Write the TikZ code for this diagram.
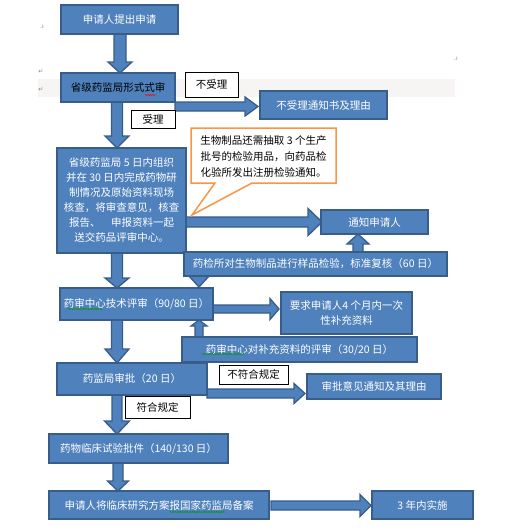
\documentclass[tikz,border=0pt]{standalone}
\usepackage{fontspec}
\newfontfamily\cjk{Noto Sans CJK SC}
\newfontfamily\djv{DejaVu Sans}
\usetikzlibrary{calc,decorations.pathmorphing}
\definecolor{boxblue}{HTML}{4F81BD}
\definecolor{boxedge}{HTML}{385D8A}
\definecolor{calloutorange}{HTML}{F79646}
\definecolor{bandgray}{HTML}{F6F5F3}
\definecolor{markgray}{HTML}{7F7F7F}
\pgfdeclarelayer{band}
\pgfdeclarelayer{arrows}
\pgfsetlayers{band,arrows,main}
\tikzset{
  box/.style={draw=boxedge, fill=boxblue, line width=1.6pt, inner sep=0pt, outer sep=0pt,
    text=white, font=\cjk\fontsize{10.5}{15}\selectfont, align=center},
  lbl/.style={draw=black, fill=white, line width=0.8pt, inner sep=0pt, outer sep=0pt,
    text=black, font=\cjk\fontsize{10.5}{15}\selectfont},
  barrow/.style={fill=boxblue, draw=boxedge, line width=1.3pt, line join=miter},
  pmark/.style={text=markgray, font=\djv\fontsize{6}{6}\selectfont, inner sep=0pt},
  squig/.style={decorate, decoration={snake, amplitude=0.6pt, segment length=2.4pt}, line width=0.5pt}
}
% down arrow: #1 x, #2 from coord, #3 tip coord, #4 shaft half, #5 head half, #6 head length
\newcommand\darr[6]{%
\draw[barrow] let \p1=#2, \p2=#3 in
 ({(#1-#4)*1pt},\y1) -- ({(#1-#4)*1pt},{\y2+#6*1pt}) -- ({(#1-#5)*1pt},{\y2+#6*1pt}) -- ({#1*1pt},\y2)
 -- ({(#1+#5)*1pt},{\y2+#6*1pt}) -- ({(#1+#4)*1pt},{\y2+#6*1pt}) -- ({(#1+#4)*1pt},\y1) -- cycle;}
% up arrow
\newcommand\uarr[6]{%
\draw[barrow] let \p1=#2, \p2=#3 in
 ({(#1-#4)*1pt},\y1) -- ({(#1-#4)*1pt},{\y2-#6*1pt}) -- ({(#1-#5)*1pt},{\y2-#6*1pt}) -- ({#1*1pt},\y2)
 -- ({(#1+#5)*1pt},{\y2-#6*1pt}) -- ({(#1+#4)*1pt},{\y2-#6*1pt}) -- ({(#1+#4)*1pt},\y1) -- cycle;}
% right arrow: #1 y
\newcommand\rarr[6]{%
\draw[barrow] let \p1=#2, \p2=#3 in
 (\x1,{-(#1-#4)*1pt}) -- ({\x2-#6*1pt},{-(#1-#4)*1pt}) -- ({\x2-#6*1pt},{-(#1-#5)*1pt}) -- (\x2,{-#1*1pt})
 -- ({\x2-#6*1pt},{-(#1+#5)*1pt}) -- ({\x2-#6*1pt},{-(#1+#4)*1pt}) -- (\x1,{-(#1+#4)*1pt}) -- cycle;}
\begin{document}
\begin{tikzpicture}[x=1pt,y=-1pt]
\useasboundingbox (0,0) rectangle (517,530);

% nodes
\node[box, minimum width=117pt, minimum height=29pt] (n1) at (119.5,19.5) {申请人提出申请};
\node[box, minimum width=114pt, minimum height=29pt, text=black] (n2) at (118,87.5) {省级药监局形式式审};
\node[lbl, minimum width=53pt, minimum height=25pt] (lno) at (211.5,84.5) {不受理};
\node[box, minimum width=127pt, minimum height=28pt] (n3) at (323.5,105) {不受理通知书及理由};
\node[lbl, minimum width=44pt, minimum height=18pt] (lyes) at (153,119) {受理};
\node[box, minimum width=129pt, minimum height=105pt] (n4) at (121.5,200.5)
  {省级药监局 5 日内组织\\并在 30 日内完成药物研\\制情况及原始资料现场\\核查，将审查意见，核查\\报告、\hspace{1em}申报资料一起\\送交药品评审中心。};
\node[box, minimum width=107pt, minimum height=24pt] (n5) at (374.5,222) {通知申请人};
\node[box, minimum width=263pt, minimum height=24pt] (n6) at (315.5,264) {药检所对生物制品进行样品检验，标准复核（60 日）};
\node[box, minimum width=153pt, minimum height=32pt] (n7) at (136.5,304) {药审中心技术评审（90/80 日）};
\node[box, minimum width=131pt, minimum height=42pt, font=\cjk\fontsize{10.5}{14.5}\selectfont] (n8) at (346.5,313) {要求申请人4 个月内一次\\性补充资料};
\node[box, minimum width=235pt, minimum height=25pt] (n9) at (299.5,349.5) {药审中心对补充资料的评审（30/20 日）};
\node[box, minimum width=150pt, minimum height=32pt] (n10) at (132,379) {药监局审批（20 日）};
\node[lbl, minimum width=69pt, minimum height=19pt] (lnot) at (253.5,374.5) {不符合规定};
\node[box, minimum width=134pt, minimum height=25pt] (n11) at (374,386.5) {审批意见通知及其理由};
\node[lbl, minimum width=65pt, minimum height=22pt] (lok) at (157.5,407) {符合规定};
\node[box, minimum width=179pt, minimum height=29pt] (n12) at (138.5,448.5) {药物临床试验批件（140/130 日）};
\node[box, minimum width=220pt, minimum height=28pt] (n13) at (159,505) {申请人将临床研究方案报国家药监局备案};
\node[box, minimum width=101pt, minimum height=28pt] (n14) at (422.5,505) {3 年内实施};

% callout
\draw[draw=calloutorange, fill=white, line width=1.5pt, line join=miter]
  (191,128) -- (336,128) -- (336,183) -- (252,183) -- (192,215) -- (215,183) -- (191,183) -- cycle;
\node[text=black, font=\cjk\fontsize{10.5}{16}\selectfont, align=center, inner sep=0pt] (callout) at (263.5,156.5)
  {生物制品还需抽取 3 个生产\\批号的检验用品，向药品检\\化验所发出注册检验通知。};

% spell-check squiggles
\draw[squig, red] (145,95) -- (156,95);
\draw[squig, green!60!black] (68,309) -- (102,309);
\draw[squig, green!60!black] (202,354) -- (245,354);
\draw[squig, green!60!black] (170,512) -- (225,512);

% paragraph marks
\node[pmark] (pm1) at (42,27) {.ı};
\node[pmark] (pm2) at (41,72) {↵};
\node[pmark] (pm3) at (41,90) {↵};
\node[pmark] (pm4) at (456,59) {.ı};

\begin{pgfonlayer}{band}
\fill[white] (0,0) rectangle (517,530);
\fill[bandgray] (38,79) rectangle (455,97);
\end{pgfonlayer}

\begin{pgfonlayer}{arrows}
\darr{120}{(n1.south)}{(n2.north)}{6}{12}{11}
\darr{117}{(n2.south)}{(n4.north)}{5.5}{12}{12}
\rarr{106.5}{(n2.east)}{([xshift=-2pt]n3.west)}{4.5}{9.5}{13}
\rarr{222}{(n4.east)}{([xshift=1pt]n5.west)}{5}{13.5}{14}
\uarr{358}{(n6.north)}{(n5.south)}{5}{11}{10}
\darr{199}{(n6.south)}{([yshift=1pt]n7.north)}{5.5}{11}{12}
\darr{117}{(n4.south)}{(n7.north)}{5.5}{12}{10}
\rarr{309}{(n7.east)}{([xshift=-2pt]n8.west)}{4}{10.5}{9}
\uarr{199}{(n9.north)}{(n7.south)}{4}{8}{6}
\darr{117}{(n7.south)}{(n10.north)}{5.5}{12}{14}
\rarr{393.5}{(n10.east)}{([xshift=-2pt]n11.west)}{4.5}{10}{11}
\darr{117}{(n10.south)}{(n12.north)}{5}{12.5}{13}
\darr{118}{(n12.south)}{(n13.north)}{5}{10.5}{10}
\rarr{505.5}{([xshift=2pt]n13.east)}{([xshift=-1pt]n14.west)}{4.5}{11}{11}
\end{pgfonlayer}
\end{tikzpicture}
\end{document}
